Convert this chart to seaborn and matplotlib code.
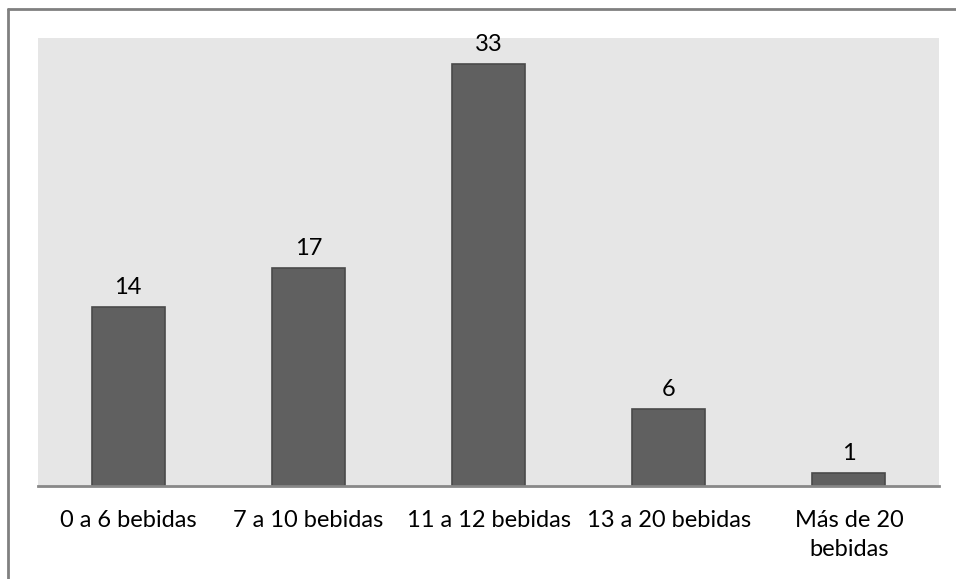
import matplotlib
matplotlib.use("Agg")
import matplotlib.pyplot as plt
import seaborn as sns
import pandas as pd
from matplotlib.lines import Line2D

categories = ["0 a 6 bebidas", "7 a 10 bebidas", "11 a 12 bebidas",
              "13 a 20 bebidas", "Más de 20\nbebidas"]
values = [14, 17, 33, 6, 1]

sns.set_theme(style="white")
plt.rcParams["font.family"] = ["Lato", "DejaVu Sans"]

df = pd.DataFrame({"cat": categories, "val": values})

fig = plt.figure(figsize=(9.56, 5.79), dpi=100)
ax = fig.add_axes([38 / 956, 1 - 486 / 579, 901 / 956, 448 / 579])
ax.set_facecolor("#e6e6e6")

sns.barplot(data=df, x="cat", y="val", color="#606060", saturation=1,
            width=0.405, edgecolor="#4a4a4a", linewidth=1.2, ax=ax)

for i, v in enumerate(values):
    ax.annotate(str(v), (i, v), xytext=(0, 14), textcoords="offset points",
                ha="center", va="center", fontsize=17, color="#000000")

ax.set_ylim(0, 35)
ax.set_xlim(-0.5, len(categories) - 0.5)
ax.set_yticks([])
ax.set_xlabel("")
ax.set_ylabel("")
for s in ["top", "right", "left"]:
    ax.spines[s].set_visible(False)
ax.spines["bottom"].set_color("#888888")
ax.spines["bottom"].set_linewidth(2)
ax.tick_params(axis="x", length=0, pad=17, labelsize=17, colors="#000000")
for lbl in ax.get_xticklabels():
    lbl.set_linespacing(1.5)

# outer chart border (top and left only visible)
fig.add_artist(Line2D([8 / 956, 1], [1 - 9 / 579, 1 - 9 / 579],
                      transform=fig.transFigure, color="#808080", lw=2))
fig.add_artist(Line2D([8 / 956, 8 / 956], [0, 1 - 9 / 579],
                      transform=fig.transFigure, color="#808080", lw=2))

fig.savefig("out.png", dpi=100, facecolor="white")
